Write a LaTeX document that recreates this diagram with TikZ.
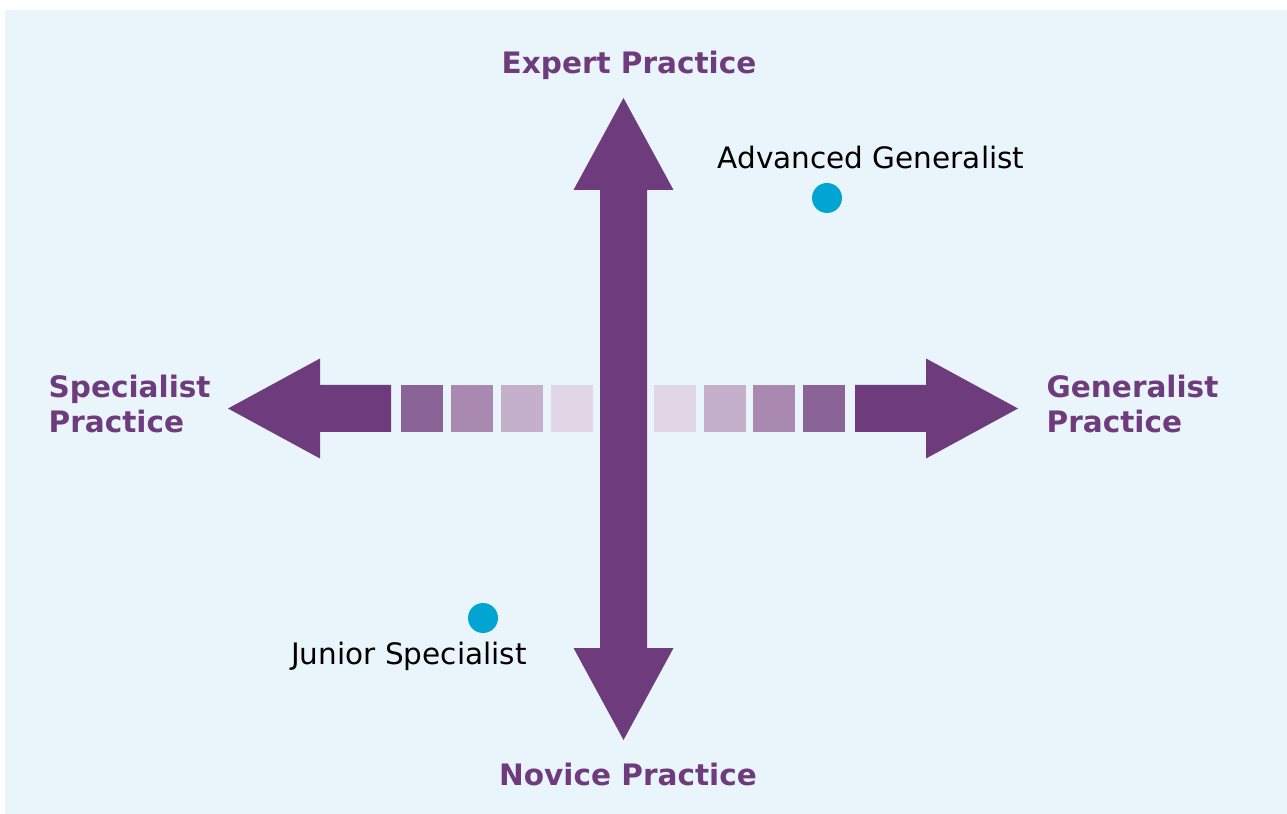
\documentclass[tikz,border=0pt]{standalone}
\usepackage{fontspec}
\setmainfont{DejaVu Sans}
\usepackage{tikz}
\usetikzlibrary{calc}
\definecolor{viola}{HTML}{6E3C7D}
\definecolor{sfondo}{HTML}{E9F4FB}
\definecolor{puntoblu}{HTML}{00A5D4}
\definecolor{q1}{HTML}{8A6496}
\definecolor{q2}{HTML}{A989B0}
\definecolor{q3}{HTML}{C5B0CB}
\definecolor{q4}{HTML}{E1D6E5}
\tikzset{
    freccia/.style = {fill = viola},
    asse/.style = {font = \fontsize{8.4}{10}\selectfont\bfseries, text = viola, inner sep = 0pt},
    etichetta/.style = {font = \fontsize{8.4}{10}\selectfont, text = black, inner sep = 0pt},
    punto/.style = {circle, fill = puntoblu, minimum size = 3mm, inner sep = 0pt}
}

\begin{document}
\begin{tikzpicture}[x = 0.1mm, y = -0.1mm]
    % Parametri
    \pgfmathsetmacro{\cx}{623.5}
    \pgfmathsetmacro{\cy}{408.5}
    \pgfmathsetmacro{\asta}{23.5}
    \pgfmathsetmacro{\testa}{50}
    \useasboundingbox (0,0) rectangle (1287,814);
    % Sfondo
    \fill[sfondo] (5,10) rectangle (1287,814);
    % Quadrati
    \foreach \x/\col in {401/q1, 451/q2, 501/q3, 551/q4, 654/q4, 704/q3, 753/q2, 803/q1}
        \fill[\col] (\x,{\cy-\asta}) rectangle ({\x+42},{\cy+\asta});
    % Freccia sinistra
    \fill[freccia] (228,\cy) -- (320,{\cy-\testa}) -- (320,{\cy-\asta}) -- (391,{\cy-\asta})
        -- (391,{\cy+\asta}) -- (320,{\cy+\asta}) -- (320,{\cy+\testa}) -- cycle;
    % Freccia destra
    \fill[freccia] (1018,\cy) -- (926,{\cy-\testa}) -- (926,{\cy-\asta}) -- (855,{\cy-\asta})
        -- (855,{\cy+\asta}) -- (926,{\cy+\asta}) -- (926,{\cy+\testa}) -- cycle;
    % Freccia verticale
    \fill[freccia] (\cx,98) -- ({\cx+\testa},190) -- ({\cx+\asta},190) -- ({\cx+\asta},648)
        -- ({\cx+\testa},648) -- (\cx,740) -- ({\cx-\testa},648) -- ({\cx-\asta},648)
        -- ({\cx-\asta},190) -- ({\cx-\testa},190) -- cycle;
    % Assi
    \node[asse] (expert) at (629,65) {Expert Practice};
    \node[asse] (novice) at (628,774) {Novice Practice};
    \node[asse, anchor = west, align = left] (specialist) at (48,404) {Specialist\\Practice};
    \node[asse, anchor = west, align = left] (generalist) at (1046,404) {Generalist\\Practice};
    % Punti
    \node[punto] (advdot) at (827,198) {};
    \node[etichetta] (advanced) at (871,158) {Advanced Generalist};
    \node[punto] (jundot) at (483,618) {};
    \node[etichetta] (junior) at (409,656) {Junior Specialist};
\end{tikzpicture}
\end{document}
